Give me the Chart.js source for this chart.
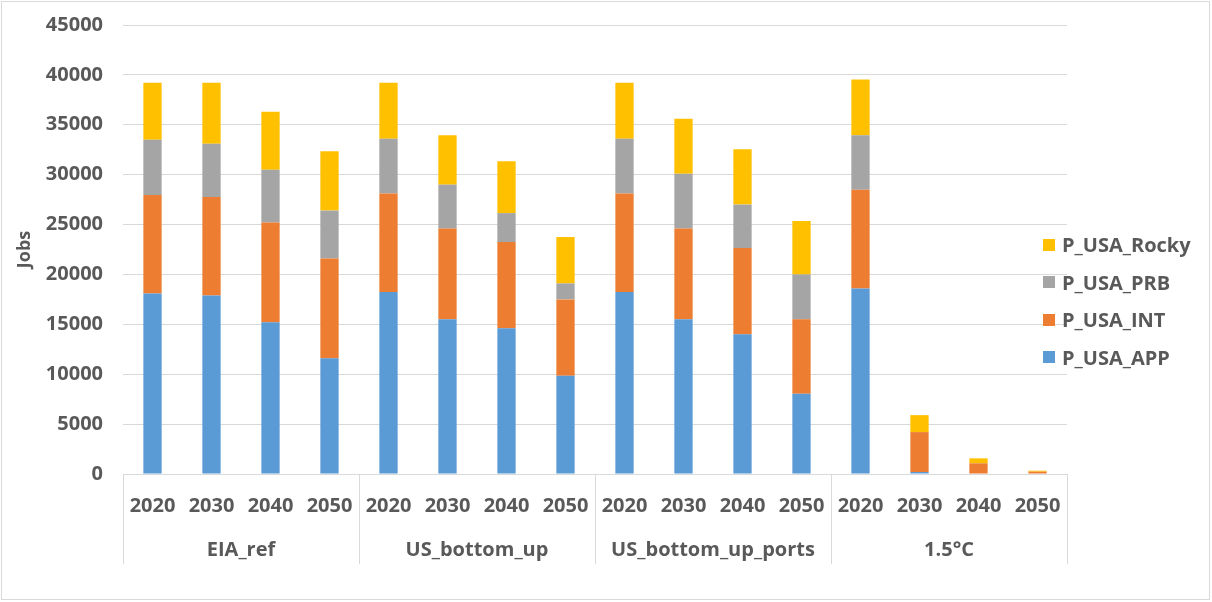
<!DOCTYPE html>
<html>
<head>
<meta charset="utf-8">
<script src="https://cdn.jsdelivr.net/npm/chart.js@4"></script>
<style>
  body { margin: 0; background: #fff; }
  #wrap { position: relative; width: 1212px; height: 602px; }
  #legend { position: absolute; left: 1043px; top: 226px; font: bold 20px "Open Sans", sans-serif; color: #595959; }
  #legend .item { height: 37.5px; display: flex; align-items: center; white-space: nowrap; }
  #legend .box { width: 12px; height: 12px; margin-right: 7px; }
</style>
</head>
<body>
<div id="wrap">
  <canvas id="jobsChart" width="1212" height="602"></canvas>
  <div id="legend"></div>
</div>
<script>
// 시나리오 / 연도
const groups = ['EIA_ref', 'US_bottom_up', 'US_bottom_up_ports', '1.5°C'];
const years = ['2020', '2030', '2040', '2050'];
const labels = [];
groups.forEach(function () { years.forEach(function (y) { labels.push(y); }); });

// 지역별 일자리 수
const app   = [18100, 17900, 15200, 11600, 18250, 15500, 14600, 9850, 18250, 15500, 14000, 8050, 18600, 200, 0, 0];
const int_  = [9850, 9850, 10000, 10000, 9850, 9100, 8650, 7650, 9850, 9100, 8650, 7450, 9900, 4000, 1070, 230];
const prb   = [5550, 5350, 5300, 4800, 5500, 4400, 2900, 1600, 5500, 5500, 4350, 4500, 5450, 0, 0, 0];
const rocky = [5700, 6100, 5800, 5950, 5600, 4950, 5200, 4650, 5600, 5500, 5550, 5350, 5600, 1700, 500, 100];

const seriesNames = ['P_USA_APP', 'P_USA_INT', 'P_USA_PRB', 'P_USA_Rocky'];
const seriesColors = ['#5B9BD5', '#ED7D31', '#A5A5A5', '#FFC000'];
const seriesData = [app, int_, prb, rocky];

const textColor = '#595959';
const gridColor = '#d9d9d9';
const fontFamily = '"Open Sans", sans-serif';

// 하단 시나리오 구분선 + 이름, 바깥 테두리
const groupAxis = {
  id: 'groupAxis',
  beforeDraw(chart) {
    const ctx = chart.ctx;
    ctx.save();
    ctx.strokeStyle = gridColor;
    ctx.lineWidth = 1;
    ctx.strokeRect(1.5, 1.5, 1208, 598);
    ctx.restore();
  },
  afterDraw(chart) {
    const ctx = chart.ctx;
    const x = chart.scales.x;
    const bottom = chart.chartArea.bottom;
    ctx.save();
    ctx.strokeStyle = gridColor;
    ctx.lineWidth = 1;
    for (let g = 0; g <= groups.length; g++) {
      const px = Math.round(x.getPixelForValue(g * years.length - 0.5)) + 0.5;
      ctx.beginPath();
      ctx.moveTo(px, bottom);
      ctx.lineTo(px, bottom + 90);
      ctx.stroke();
    }
    ctx.fillStyle = textColor;
    ctx.font = 'bold 20px ' + fontFamily;
    ctx.textAlign = 'center';
    ctx.textBaseline = 'middle';
    groups.forEach(function (name, g) {
      const cx = x.getPixelForValue(g * years.length + (years.length - 1) / 2);
      ctx.fillText(name, cx, bottom + 76);
    });
    ctx.restore();
  }
};

const datasets = seriesNames.map(function (name, i) {
  return {
    label: name,
    data: seriesData[i],
    backgroundColor: seriesColors[i],
    borderWidth: 0,
    categoryPercentage: 1,
    barPercentage: 0.31
  };
});

new Chart(document.getElementById('jobsChart'), {
  type: 'bar',
  data: { labels: labels, datasets: datasets },
  plugins: [groupAxis],
  options: {
    responsive: false,
    animation: false,
    devicePixelRatio: 1,
    layout: { padding: { left: 0, top: 25, right: 145, bottom: 0 } },
    plugins: {
      legend: { display: false },
      tooltip: { enabled: false }
    },
    scales: {
      x: {
        stacked: true,
        grid: { display: false },
        border: { display: true, color: gridColor, width: 1 },
        ticks: { color: textColor, font: { family: fontFamily, size: 20, weight: 'bold' }, padding: 12, maxRotation: 0, autoSkip: false },
        afterFit: function (s) { s.height = 128; }
      },
      y: {
        stacked: true,
        min: 0,
        max: 45000,
        grid: { color: gridColor, lineWidth: 1, drawTicks: false },
        border: { display: false },
        ticks: {
          stepSize: 5000,
          color: textColor,
          font: { family: fontFamily, size: 20, weight: 'bold' },
          padding: 20,
          callback: function (v) { return String(v); }
        },
        title: { display: true, text: 'Jobs', color: textColor, font: { family: fontFamily, size: 18, weight: 'bold' }, padding: { top: 14, bottom: 0 } },
        afterFit: function (s) { s.width = 123; s.paddingTop = 0; s.paddingBottom = 0; }
      }
    }
  }
});

// 범례 (Rocky 가 맨 위)
const legendBox = document.getElementById('legend');
for (let i = seriesNames.length - 1; i >= 0; i--) {
  const item = document.createElement('div');
  item.className = 'item';
  const box = document.createElement('span');
  box.className = 'box';
  box.style.background = seriesColors[i];
  item.appendChild(box);
  item.appendChild(document.createTextNode(seriesNames[i]));
  legendBox.appendChild(item);
}
</script>
</body>
</html>
